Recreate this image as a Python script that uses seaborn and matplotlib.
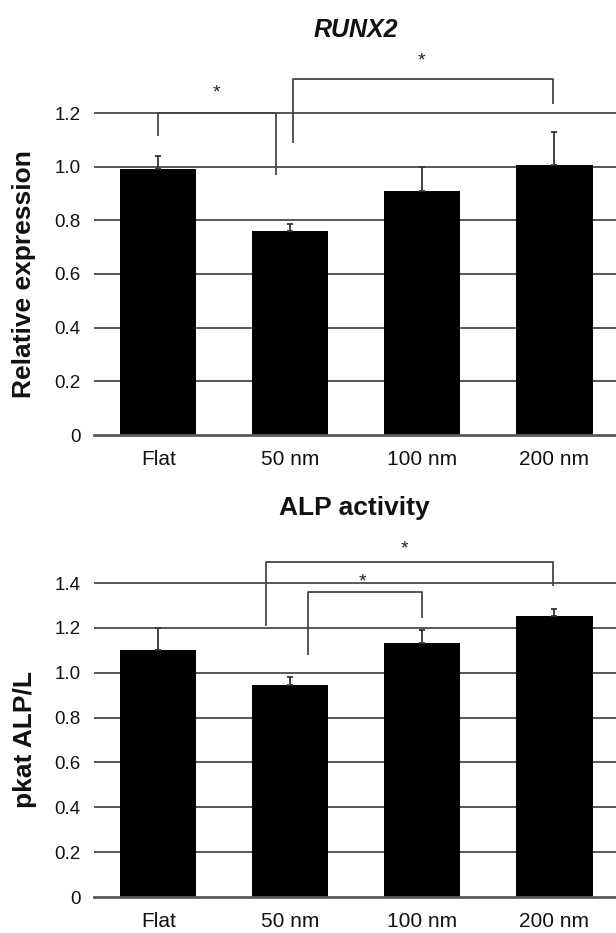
import matplotlib
matplotlib.use("Agg")
import matplotlib.pyplot as plt
import seaborn as sns
import pandas as pd

# ---------------- data ----------------
categories = ["Flat", "50 nm", "100 nm", "200 nm"]

runx2_values = [0.99, 0.76, 0.91, 1.005]
runx2_errors = [0.05, 0.028, 0.09, 0.125]
runx2_ticks = [0, 0.2, 0.4, 0.6, 0.8, 1.0, 1.2]
runx2_ticklabels = ["0", "0.2", "0.4", "0.6", "0.8", "1.0", "1.2"]

alp_values = [1.10, 0.944, 1.131, 1.251]
alp_errors = [0.098, 0.035, 0.061, 0.033]
alp_ticks = [0, 0.2, 0.4, 0.6, 0.8, 1.0, 1.2, 1.4]
alp_ticklabels = ["0", "0.2", "0.4", "0.6", "0.8", "1.0", "1.2", "1.4"]

# significance brackets: (x_left, x_right, y_left_end, y_right_end, y_top, star_x, star_y)
runx2_brackets = [
    (0.0, 0.89, 1.115, 0.969, 1.2, 0.443, 1.283),
    (1.02, 2.99, 1.087, 1.234, 1.327, 1.995, 1.404),
]
alp_brackets = [
    (0.82, 2.99, 1.208, 1.388, 1.495, 1.867, 1.565),
    (1.135, 1.996, 1.078, 1.243, 1.358, 1.549, 1.418),
]

# ---------------- style ----------------
sns.set_theme(style="white")
plt.rcParams["font.family"] = ["Liberation Sans", "DejaVu Sans"]

W, H = 616, 933
fig = plt.figure(figsize=(W / 100, H / 100), dpi=100)

GRID = "#2a2a2a"
BRK = "#474747"
STAR_FS = 14


def panel(rect, values, errors, ticks, ticklabels, ylim_top, brackets):
    ax = fig.add_axes(rect)
    df = pd.DataFrame({"group": categories, "value": values})
    sns.barplot(data=df, x="group", y="value", color="black", saturation=1,
                width=0.58, linewidth=0, errorbar=None, ax=ax, zorder=2)
    xs = [p.get_x() + p.get_width() / 2 for p in ax.patches]
    ax.errorbar(xs, values, yerr=[[0] * len(errors), errors], fmt="none",
                ecolor="#333333", elinewidth=1.3, capsize=2.3, capthick=1.3,
                zorder=3)
    for (xl, xr, yl, yr, yt, sx, sy) in brackets:
        ax.plot([xl, xl, xr, xr], [yl, yt, yt, yr], color=BRK, lw=1.3,
                solid_capstyle="butt", zorder=4, clip_on=False)
        ax.annotate("*", xy=(sx, sy), xytext=(0, -0.37 * STAR_FS),
                    textcoords="offset points", ha="center", va="baseline",
                    fontsize=STAR_FS, color="#222222", zorder=5)
    ax.set_xlim(-0.484, 3.468)
    ax.set_ylim(0, ylim_top)
    ax.set_yticks(ticks)
    ax.set_yticklabels(ticklabels)
    ax.set_xlabel("")
    ax.set_ylabel("")
    ax.grid(False)
    for t in ticks[1:]:
        ax.axhline(t, color=GRID, lw=1.1, zorder=1)
    ax.set_axisbelow(True)
    for s in ["left", "top", "right"]:
        ax.spines[s].set_visible(False)
    ax.spines["bottom"].set_color("#5a5a5a")
    ax.spines["bottom"].set_linewidth(2)
    ax.spines["bottom"].set_zorder(3)
    ax.tick_params(axis="y", length=0, pad=10, labelsize=13.5, labelcolor="#111111")
    ax.tick_params(axis="x", length=0, pad=10.5, labelsize=15, labelcolor="#111111")
    ax.patch.set_alpha(0)
    return ax


# top panel: y=0 at 435 px, 1.2 at 113 px
top_unit = (435 - 113) / 1.2
top_ylim = 1.45
ax1 = panel([94.3 / W, 1 - 435 / H, (W - 94.3) / W, top_ylim * top_unit / H],
            runx2_values, runx2_errors, runx2_ticks, runx2_ticklabels,
            top_ylim, runx2_brackets)

# bottom panel: y=0 at 897 px, 1.4 at 583 px
bot_unit = (897 - 583) / 1.4
bot_ylim = 1.6
ax2 = panel([94.3 / W, 1 - 897 / H, (W - 94.3) / W, bot_ylim * bot_unit / H],
            alp_values, alp_errors, alp_ticks, alp_ticklabels,
            bot_ylim, alp_brackets)

# titles
fig.text(356 / W, 1 - 30 / H, "RUNX2", ha="center", va="center",
         fontsize=18, fontweight="bold", fontstyle="italic", color="#111111")
fig.text(354 / W, 1 - 508 / H, "ALP activity", ha="center", va="center",
         fontsize=19, fontweight="bold", color="#111111")

# y labels
fig.text(24 / W, 1 - 274 / H, "Relative expression", rotation=90,
         ha="center", va="center", fontsize=19, fontweight="bold", color="#111111")
fig.text(25 / W, 1 - 740 / H, "pkat ALP/L", rotation=90,
         ha="center", va="center", fontsize=19, fontweight="bold", color="#111111")

fig.savefig("out.png", dpi=100, facecolor="white")
